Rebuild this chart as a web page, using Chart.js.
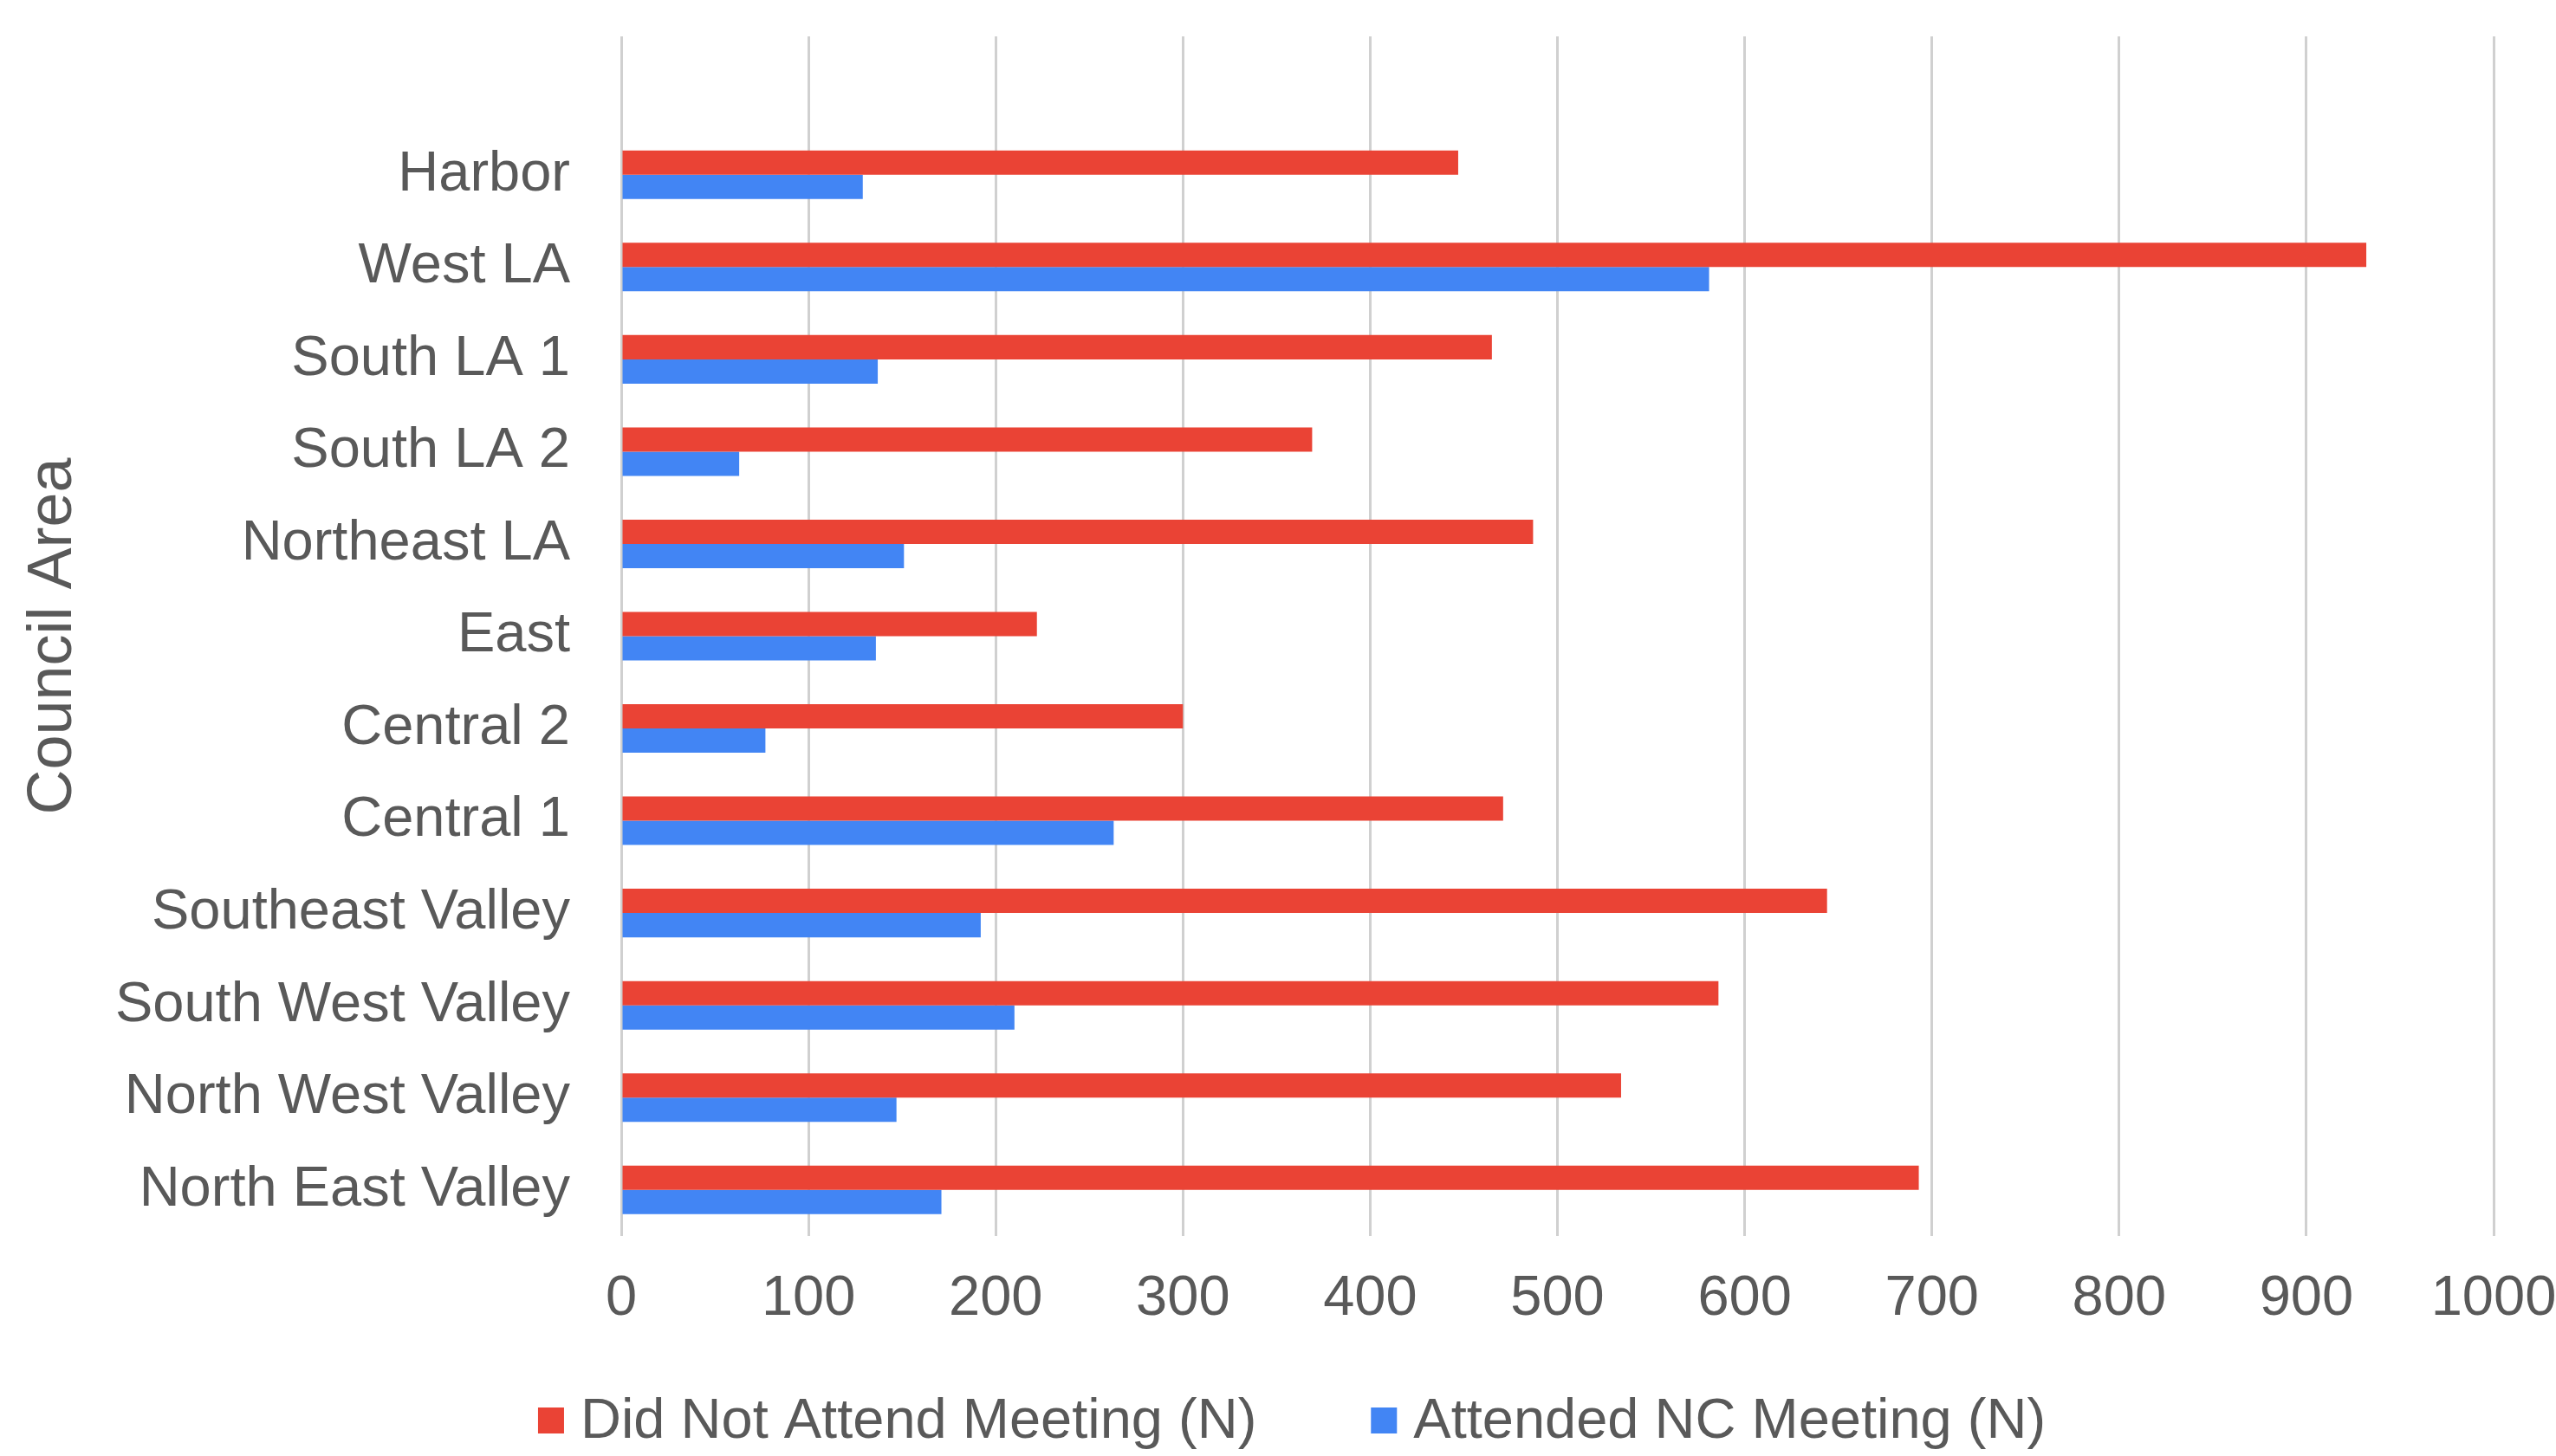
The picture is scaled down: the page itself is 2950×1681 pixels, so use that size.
<!DOCTYPE html>
<html>
<head>
<meta charset="utf-8">
<title>Council Area NC Meeting Attendance</title>
<script src="https://cdn.jsdelivr.net/npm/chart.js@4/dist/chart.umd.min.js"></script>
<style>
  html, body { margin: 0; padding: 0; background: #ffffff; }
  #wrap { width: 2950px; height: 1681px; }
</style>
</head>
<body>
<div id="wrap"><canvas id="chart" width="2950" height="1681"></canvas></div>
<script>
// Council areas, top to bottom (the first row of the sheet is blank)
const areas = [
  '',
  'Harbor',
  'West LA',
  'South LA 1',
  'South LA 2',
  'Northeast LA',
  'East',
  'Central 2',
  'Central 1',
  'Southeast Valley',
  'South West Valley',
  'North West Valley',
  'North East Valley'
];

const didNotAttend = [null, 447, 932, 465, 369, 487, 222, 300, 471, 644, 586, 534, 693];
const attended     = [null, 129, 581, 137, 63, 151, 136, 77, 263, 192, 210, 147, 171];

const seriesNames = ['Did Not Attend Meeting (N)', 'Attended NC Meeting (N)'];
const xTicks = [0, 100, 200, 300, 400, 500, 600, 700, 800, 900, 1000];
const axisTitle = 'Council Area';

const RED = '#EA4335';
const BLUE = '#4285F4';
const TEXT = '#595959';
const GRID = '#d0d0d0';
const FONT = '"Liberation Sans", Arial, Helvetica, sans-serif';

// Legend row under the axis: boxes and labels laid out in one line
const legendRow = {
  id: 'legendRow',
  afterDraw(chart) {
    const ctx = chart.ctx;
    ctx.save();
    ctx.font = '65px ' + FONT;
    ctx.textBaseline = 'middle';
    ctx.textAlign = 'left';
    const box = 30, gap = 19, spacing = 132;
    const items = chart.data.datasets.map(d => ({
      label: d.label,
      color: d.backgroundColor,
      w: ctx.measureText(d.label).width
    }));
    const total = items.reduce((s, it) => s + box + gap + it.w, 0) + spacing * (items.length - 1);
    let x = 1491 - total / 2;
    const y = 1640;
    items.forEach(it => {
      ctx.fillStyle = it.color;
      ctx.fillRect(x, y - box / 2, box, box);
      ctx.fillStyle = TEXT;
      ctx.fillText(it.label, x + box + gap, y + 2);
      x += box + gap + it.w + spacing;
    });
    ctx.restore();
  }
};

new Chart(document.getElementById('chart'), {
  type: 'bar',
  data: {
    labels: areas,
    datasets: [
      { label: seriesNames[0], data: didNotAttend, backgroundColor: RED, borderWidth: 0,
        categoryPercentage: 0.526, barPercentage: 1.0 },
      { label: seriesNames[1], data: attended, backgroundColor: BLUE, borderWidth: 0,
        categoryPercentage: 0.526, barPercentage: 1.0 }
    ]
  },
  options: {
    indexAxis: 'y',
    responsive: false,
    animation: false,
    layout: { padding: { top: 42, right: 72, bottom: 140, left: 0 } },
    plugins: {
      legend: { display: false },
      tooltip: { enabled: false }
    },
    scales: {
      x: {
        type: 'linear',
        min: 0,
        max: 1000,
        afterBuildTicks: s => { s.ticks = xTicks.map(v => ({ value: v })); },
        ticks: {
          color: TEXT,
          font: { family: FONT, size: 65 },
          padding: 34,
          maxRotation: 0,
          callback: v => String(v)
        },
        grid: { color: GRID, lineWidth: 3, drawTicks: false },
        border: { display: false },
        afterFit: s => { s.height = 114; s.paddingLeft = 0; s.paddingRight = 0; }
      },
      y: {
        type: 'category',
        ticks: {
          color: TEXT,
          font: { family: FONT, size: 65 },
          padding: 59,
          autoSkip: false
        },
        grid: { display: false, drawTicks: false },
        border: { display: false },
        title: {
          display: true,
          text: axisTitle,
          color: TEXT,
          font: { family: FONT, size: 72 },
          padding: { top: 19, bottom: 0 }
        },
        afterFit: s => { s.width = 717; s.paddingTop = 0; s.paddingBottom = 0; }
      }
    }
  },
  plugins: [legendRow]
});
</script>
</body>
</html>
